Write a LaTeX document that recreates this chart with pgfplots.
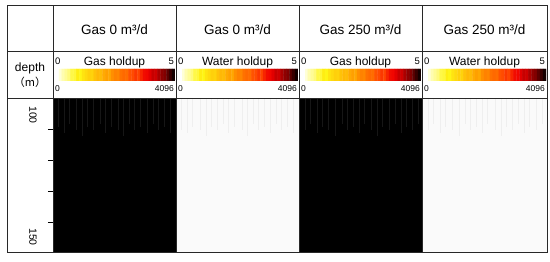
\documentclass[border=0pt]{standalone}
\usepackage{pgfplots}
\pgfplotsset{compat=1.18}
\usepackage{pgfplotstable}
\usepackage{fontspec}
\setmainfont{Liberation Sans}
\newfontfamily\cjk{Noto Sans CJK SC}
\definecolor{streakdark}{RGB}{22,22,22}
\definecolor{paper}{RGB}{250,250,250}
\definecolor{streaklight}{RGB}{239,239,239}
\definecolor{frame}{RGB}{40,40,40}
\pgfplotsset{colormap={hotr}{rgb255(0cm)=(255,255,215) rgb255(15cm)=(255,245,20) rgb255(40cm)=(255,160,0) rgb255(60cm)=(255,75,0) rgb255(72cm)=(240,0,0) rgb255(88cm)=(130,0,0) rgb255(100cm)=(20,0,0)}}
\pgfplotsset{cbar/.style={anchor=south west, scale only axis,
  height=12pt, xmin=-0.5, xmax=39.5, ymin=-0.5, ymax=1.5,
  hide axis, colormap name=hotr, point meta min=0, point meta max=1}}
\pgfplotstableread{
x y c
0 0 0.00
1 0 0.03
2 0 0.05
3 0 0.07
4 0 0.11
5 0 0.12
6 0 0.17
7 0 0.15
8 0 0.20
9 0 0.23
10 0 0.26
11 0 0.25
12 0 0.30
13 0 0.33
14 0 0.32
15 0 0.37
16 0 0.40
17 0 0.38
18 0 0.44
19 0 0.47
20 0 0.46
21 0 0.51
22 0 0.53
23 0 0.52
24 0 0.58
25 0 0.60
26 0 0.63
27 0 0.61
28 0 0.66
29 0 0.70
30 0 0.71
31 0 0.74
32 0 0.78
33 0 0.77
34 0 0.82
35 0 0.86
36 0 0.88
37 0 0.92
38 0 0.96
39 0 1.00
0 1 0.00
1 1 0.03
2 1 0.05
3 1 0.07
4 1 0.11
5 1 0.12
6 1 0.17
7 1 0.15
8 1 0.20
9 1 0.23
10 1 0.26
11 1 0.25
12 1 0.30
13 1 0.33
14 1 0.32
15 1 0.37
16 1 0.40
17 1 0.38
18 1 0.44
19 1 0.47
20 1 0.46
21 1 0.51
22 1 0.53
23 1 0.52
24 1 0.58
25 1 0.60
26 1 0.63
27 1 0.61
28 1 0.66
29 1 0.70
30 1 0.71
31 1 0.74
32 1 0.78
33 1 0.77
34 1 0.82
35 1 0.86
36 1 0.88
37 1 0.92
38 1 0.96
39 1 1.00
}\cbar
\begin{document}
\begin{tikzpicture}
\path (0,0) rectangle (550pt,262pt);
% data tracks
\begin{axis}[at={(53pt,9pt)}, anchor=south west, scale only axis,
  width=494pt, height=154pt, xmin=0, xmax=4, ymin=100, ymax=150,
  y dir=reverse, axis line style={draw=frame, line width=1pt},
  xtick=\empty, ytick={110,120,130,140}, yticklabels={},
  ytick pos=left, tick align=outside, major tick length=5pt,
  tick style={black, line width=0.9pt}]
\addplot[fill=black, draw=none] coordinates {(0,100) (1,100) (1,150) (0,150)} -- cycle;
\addplot[fill=paper, draw=none] coordinates {(1,100) (2,100) (2,150) (1,150)} -- cycle;
\addplot[fill=black, draw=none] coordinates {(2,100) (3,100) (3,150) (2,150)} -- cycle;
\addplot[fill=paper, draw=none] coordinates {(3,100) (4,100) (4,150) (3,150)} -- cycle;
\addplot[ycomb, draw=streakdark, line width=0.7pt, mark=none] coordinates {
(0.04,109) (0.09,111) (0.13,108) (0.19,110) (0.24,112) (0.28,109) (0.33,110) (0.38,108) (0.42,111) (0.47,109)
(0.53,110) (0.57,112) (0.62,108) (0.66,110) (0.71,109) (0.76,111) (0.81,108) (0.85,110) (0.90,109) (0.95,111)
(2.04,110) (2.08,108) (2.14,111) (2.18,109) (2.23,110) (2.29,112) (2.34,108) (2.38,110) (2.43,109) (2.48,111)
(2.52,108) (2.58,110) (2.63,112) (2.67,109) (2.72,110) (2.77,108) (2.82,111) (2.86,109) (2.91,110) (2.96,108)};
\addplot[ycomb, draw=streaklight, line width=0.7pt, mark=none] coordinates {
(1.04,110) (1.09,111) (1.13,109) (1.19,110) (1.24,112) (1.28,109) (1.33,110) (1.38,108) (1.42,111) (1.47,109)
(1.53,110) (1.57,112) (1.62,108) (1.66,110) (1.71,109) (1.76,111) (1.81,108) (1.85,110) (1.90,109) (1.95,111)
(3.04,110) (3.08,108) (3.14,111) (3.18,109) (3.23,110) (3.29,112) (3.34,108) (3.38,110) (3.43,109) (3.48,111)
(3.52,108) (3.58,110) (3.63,112) (3.67,109) (3.72,110) (3.77,108) (3.82,111) (3.86,109) (3.91,110) (3.96,108)};
\end{axis}
% colour bars
\begin{axis}[cbar, at={(59pt,181pt)}, width=116pt]
\addplot[matrix plot*, mesh/cols=40, point meta=explicit] table[x=x, y=y, meta=c] {\cbar};
\end{axis}
\begin{axis}[cbar, at={(182pt,181pt)}, width=116pt]
\addplot[matrix plot*, mesh/cols=40, point meta=explicit] table[x=x, y=y, meta=c] {\cbar};
\end{axis}
\begin{axis}[cbar, at={(305pt,181pt)}, width=116pt]
\addplot[matrix plot*, mesh/cols=40, point meta=explicit] table[x=x, y=y, meta=c] {\cbar};
\end{axis}
\begin{axis}[cbar, at={(428pt,181pt)}, width=118pt]
\addplot[matrix plot*, mesh/cols=40, point meta=explicit] table[x=x, y=y, meta=c] {\cbar};
\end{axis}
% frame and text
\begin{axis}[at={(0pt,0pt)}, anchor=south west, scale only axis,
  width=550pt, height=262pt, xmin=0, xmax=550, ymin=0, ymax=262,
  hide axis, clip=false]
\addplot[draw=frame, line width=1pt] coordinates {(7,9) (547,9) (547,256) (7,256)} -- cycle;
\addplot[draw=frame, line width=1pt] coordinates {(7,210) (547,210)};
\addplot[draw=frame, line width=1pt] coordinates {(7,163) (547,163)};
\addplot[draw=frame, line width=1pt] coordinates {(53,9) (53,256)};
\addplot[draw=frame, line width=1.1pt] coordinates {(176.5,9) (176.5,256)};
\addplot[draw=frame, line width=1.1pt] coordinates {(299.5,9) (299.5,256)};
\addplot[draw=frame, line width=1.1pt] coordinates {(422.5,9) (422.5,256)};
\node[font=\fontsize{13.5}{15}\selectfont] at (axis cs:114.5,232) {Gas 0 m³/d};
\node[font=\fontsize{13.5}{15}\selectfont] at (axis cs:237.5,232) {Gas 0 m³/d};
\node[font=\fontsize{13.5}{15}\selectfont] at (axis cs:360.5,232) {Gas 250 m³/d};
\node[font=\fontsize{13.5}{15}\selectfont] at (axis cs:484.5,232) {Gas 250 m³/d};
\node[font=\fontsize{12}{14}\selectfont] at (axis cs:114.5,200) {Gas holdup};
\node[font=\fontsize{12}{14}\selectfont] at (axis cs:237.5,200) {Water holdup};
\node[font=\fontsize{12}{14}\selectfont] at (axis cs:360.5,200) {Gas holdup};
\node[font=\fontsize{12}{14}\selectfont] at (axis cs:484.5,200) {Water holdup};
\node[font=\fontsize{9.5}{11}\selectfont, anchor=west, inner sep=0pt] at (axis cs:55,201) {0};
\node[font=\fontsize{9.5}{11}\selectfont, anchor=east, inner sep=0pt] at (axis cs:174,201) {5};
\node[font=\fontsize{8.5}{10}\selectfont, anchor=west, inner sep=0pt] at (axis cs:55,173) {0};
\node[font=\fontsize{8.5}{10}\selectfont, anchor=east, inner sep=0pt] at (axis cs:174,173) {4096};
\node[font=\fontsize{9.5}{11}\selectfont, anchor=west, inner sep=0pt] at (axis cs:178,201) {0};
\node[font=\fontsize{9.5}{11}\selectfont, anchor=east, inner sep=0pt] at (axis cs:297,201) {5};
\node[font=\fontsize{8.5}{10}\selectfont, anchor=west, inner sep=0pt] at (axis cs:178,173) {0};
\node[font=\fontsize{8.5}{10}\selectfont, anchor=east, inner sep=0pt] at (axis cs:297,173) {4096};
\node[font=\fontsize{9.5}{11}\selectfont, anchor=west, inner sep=0pt] at (axis cs:301,201) {0};
\node[font=\fontsize{9.5}{11}\selectfont, anchor=east, inner sep=0pt] at (axis cs:420,201) {5};
\node[font=\fontsize{8.5}{10}\selectfont, anchor=west, inner sep=0pt] at (axis cs:301,173) {0};
\node[font=\fontsize{8.5}{10}\selectfont, anchor=east, inner sep=0pt] at (axis cs:420,173) {4096};
\node[font=\fontsize{9.5}{11}\selectfont, anchor=west, inner sep=0pt] at (axis cs:424,201) {0};
\node[font=\fontsize{9.5}{11}\selectfont, anchor=east, inner sep=0pt] at (axis cs:545,201) {5};
\node[font=\fontsize{8.5}{10}\selectfont, anchor=west, inner sep=0pt] at (axis cs:424,173) {0};
\node[font=\fontsize{8.5}{10}\selectfont, anchor=east, inner sep=0pt] at (axis cs:545,173) {4096};
\node[font=\fontsize{12}{14}\selectfont] at (axis cs:30,194) {depth};
\node[font=\fontsize{11}{13}\selectfont] at (axis cs:30,180) {\cjk （m）};
\node[font=\fontsize{10.5}{12}\selectfont, rotate=-90] at (axis cs:33,147) {100};
\node[font=\fontsize{10.5}{12}\selectfont, rotate=-90] at (axis cs:33,25) {150};
\end{axis}
\end{tikzpicture}
\end{document}
